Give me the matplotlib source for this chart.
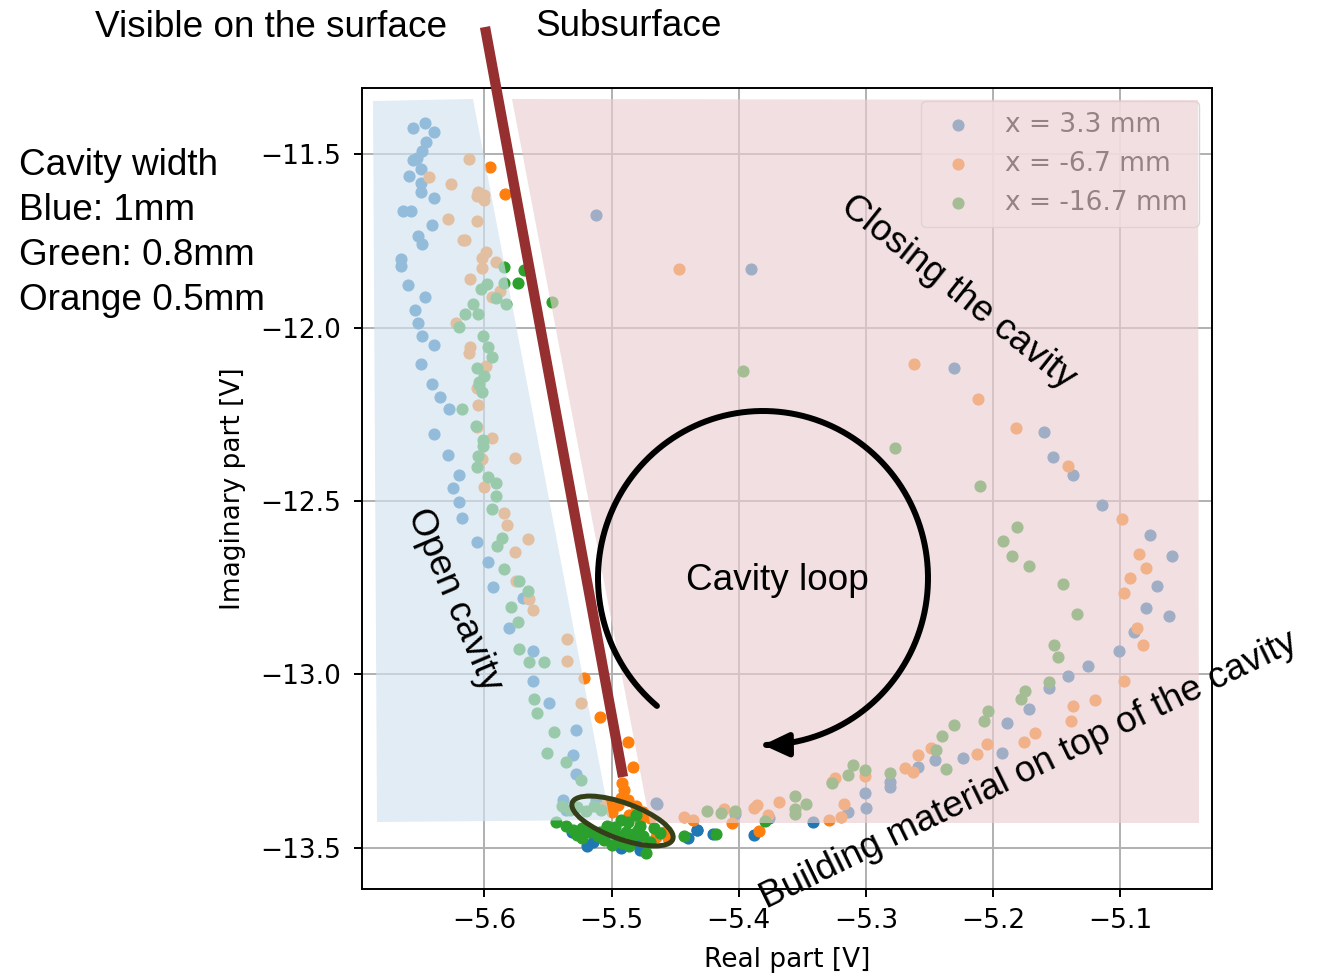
import matplotlib
matplotlib.use("Agg")
import numpy as np
import matplotlib.pyplot as plt
from matplotlib.patches import Polygon, Ellipse, FancyArrowPatch
from matplotlib.path import Path

# ---- measured impedance-plane trajectories (real / imaginary part in V) ----
re_33 = [-5.656, -5.647, -5.640, -5.646, -5.649, -5.653, -5.656, -5.650, -5.659, -5.650,
         -5.650, -5.640, -5.664, -5.658, -5.641, -5.652, -5.649, -5.666, -5.666, -5.660,
         -5.647, -5.655, -5.652, -5.649, -5.640, -5.650, -5.641, -5.635, -5.628, -5.640,
         -5.629, -5.620, -5.625, -5.620, -5.618, -5.606, -5.597, -5.593, -5.570, -5.581,
         -5.562, -5.562, -5.549, -5.528, -5.530, -5.528, -5.538,
         -5.512, -5.390, -5.231, -5.160, -5.153, -5.137, -5.114, -5.077, -5.059, -5.071,
         -5.080, -5.062, -5.089, -5.101, -5.125, -5.141, -5.156, -5.172, -5.189, -5.193,
         -5.224, -5.246, -5.259, -5.281, -5.281, -5.301, -5.300, -5.314, -5.342, -5.376,
         -5.403, -5.433, -5.464, -5.388,
         -5.519, -5.515, -5.478, -5.482, -5.531, -5.506, -5.493, -5.465, -5.512, -5.536,
         -5.420, -5.433, -5.440]
im_33 = [-11.423, -11.409, -11.435, -11.464, -11.490, -11.512, -11.518, -11.542, -11.563, -11.582,
         -11.608, -11.625, -11.664, -11.664, -11.704, -11.736, -11.759, -11.803, -11.821, -11.877,
         -11.911, -11.949, -11.987, -12.023, -12.050, -12.106, -12.162, -12.199, -12.235, -12.307,
         -12.367, -12.424, -12.462, -12.504, -12.548, -12.619, -12.675, -12.749, -12.781, -12.865,
         -12.932, -13.018, -13.083, -13.160, -13.233, -13.288, -13.362,
         -11.676, -11.831, -12.116, -12.301, -12.374, -12.425, -12.513, -12.597, -12.659, -12.744,
         -12.810, -12.832, -12.877, -12.933, -12.977, -13.005, -13.040, -13.100, -13.140, -13.228,
         -13.241, -13.247, -13.266, -13.310, -13.326, -13.341, -13.385, -13.396, -13.426, -13.413,
         -13.404, -13.448, -13.373, -13.464,
         -13.495, -13.483, -13.506, -13.483, -13.455, -13.472, -13.501, -13.371, -13.362, -13.391,
         -13.461, -13.449, -13.472]

re_m67 = [-5.612, -5.596, -5.644, -5.626, -5.605, -5.600, -5.606, -5.600, -5.584, -5.629,
          -5.606, -5.617, -5.615, -5.599, -5.602, -5.591, -5.602, -5.611, -5.588, -5.594,
          -5.622, -5.611, -5.612, -5.599, -5.606, -5.605, -5.606, -5.594, -5.576, -5.602,
          -5.600, -5.585, -5.582, -5.566, -5.576, -5.575, -5.565, -5.562, -5.535, -5.535,
          -5.522, -5.524, -5.509, -5.487, -5.483, -5.492,
          -5.447, -5.262, -5.212, -5.182, -5.141, -5.099, -5.085, -5.080, -5.092, -5.097,
          -5.087, -5.082, -5.097, -5.120, -5.137, -5.139, -5.167, -5.176, -5.205, -5.213,
          -5.249, -5.259, -5.269, -5.263, -5.301, -5.324, -5.327, -5.317, -5.320, -5.329,
          -5.368, -5.386, -5.388, -5.377, -5.384, -5.412, -5.405, -5.436, -5.443,
          -5.493, -5.495, -5.487, -5.481, -5.475, -5.500, -5.486, -5.470, -5.478, -5.465,
          -5.459, -5.456, -5.509, -5.504, -5.490]
im_m67 = [-11.514, -11.536, -11.565, -11.587, -11.608, -11.617, -11.620, -11.632, -11.614, -11.687,
          -11.692, -11.748, -11.748, -11.783, -11.798, -11.810, -11.827, -11.860, -11.894, -11.911,
          -11.986, -12.055, -12.072, -12.111, -12.175, -12.223, -12.286, -12.319, -12.375, -12.380,
          -12.459, -12.536, -12.569, -12.610, -12.646, -12.730, -12.782, -12.815, -12.899, -12.961,
          -13.010, -13.083, -13.123, -13.194, -13.266, -13.312,
          -11.831, -12.105, -12.207, -12.290, -12.398, -12.553, -12.653, -12.692, -12.721, -12.766,
          -12.866, -12.916, -13.018, -13.073, -13.090, -13.134, -13.169, -13.196, -13.202, -13.231,
          -13.212, -13.233, -13.269, -13.283, -13.294, -13.299, -13.311, -13.373, -13.410, -13.420,
          -13.368, -13.376, -13.384, -13.407, -13.452, -13.387, -13.428, -13.421, -13.410,
          -13.356, -13.377, -13.362, -13.380, -13.397, -13.397, -13.405, -13.414, -13.420, -13.469,
          -13.455, -13.472, -13.385, -13.371, -13.333]

re_m167 = [-5.585, -5.569, -5.574, -5.585, -5.598, -5.603, -5.591, -5.583, -5.547, -5.609,
           -5.615, -5.605, -5.620, -5.601, -5.597, -5.594, -5.606, -5.600, -5.604, -5.604,
           -5.602, -5.618, -5.607, -5.601, -5.601, -5.605, -5.606, -5.597, -5.591, -5.591,
           -5.594, -5.586, -5.590, -5.585, -5.573, -5.566, -5.579, -5.574, -5.573, -5.565,
           -5.553, -5.561, -5.559, -5.545, -5.551, -5.536, -5.524,
           -5.397, -5.277, -5.210, -5.181, -5.192, -5.185, -5.172, -5.145, -5.134, -5.152,
           -5.149, -5.156, -5.175, -5.178, -5.204, -5.207, -5.231, -5.240, -5.245, -5.237,
           -5.310, -5.301, -5.314, -5.281, -5.327, -5.356, -5.347, -5.356, -5.356, -5.403,
           -5.414, -5.425, -5.418, -5.443, -5.379,
           -5.539, -5.533, -5.527, -5.520, -5.514, -5.508, -5.544, -5.536, -5.530, -5.523,
           -5.517, -5.511, -5.504, -5.500, -5.495, -5.489, -5.484, -5.479, -5.475, -5.470,
           -5.473, -5.506, -5.500, -5.492, -5.486, -5.478, -5.487, -5.467, -5.462, -5.523,
           -5.493, -5.481, -5.497, -5.483, -5.509, -5.527]
im_m167 = [-11.826, -11.834, -11.870, -11.870, -11.875, -11.889, -11.915, -11.933, -11.927, -11.933,
           -11.961, -11.961, -11.999, -12.023, -12.056, -12.084, -12.117, -12.139, -12.156, -12.165,
           -12.185, -12.235, -12.283, -12.324, -12.341, -12.369, -12.402, -12.430, -12.447, -12.485,
           -12.524, -12.607, -12.629, -12.697, -12.730, -12.759, -12.807, -12.849, -12.926, -12.965,
           -12.965, -13.070, -13.110, -13.167, -13.227, -13.252, -13.306,
           -12.124, -12.347, -12.458, -12.575, -12.615, -12.659, -12.688, -12.738, -12.827, -12.914,
           -12.949, -13.023, -13.048, -13.071, -13.106, -13.134, -13.145, -13.179, -13.217, -13.273,
           -13.260, -13.277, -13.291, -13.285, -13.312, -13.351, -13.375, -13.387, -13.404, -13.393,
           -13.399, -13.395, -13.459, -13.467, -13.424,
           -13.380, -13.391, -13.382, -13.394, -13.380, -13.391, -13.426, -13.437, -13.449, -13.443,
           -13.455, -13.466, -13.437, -13.449, -13.466, -13.455, -13.472, -13.449, -13.466, -13.483,
           -13.515, -13.478, -13.492, -13.486, -13.495, -13.437, -13.426, -13.443, -13.457, -13.472,
           -13.420, -13.405, -13.440, -13.460, -13.455, -13.462]

series_labels = ["x = 3.3 mm", "x = -6.7 mm", "x = -16.7 mm"]
x_ticks = [-5.6, -5.5, -5.4, -5.3, -5.2, -5.1]
y_ticks = [-13.5, -13.0, -12.5, -12.0, -11.5]

W, H = 1322, 974
fig = plt.figure(figsize=(W / 100, H / 100), dpi=100)

# ---- scatter plot ----
ax = fig.add_axes([362 / W, 1 - 889 / H, (1211.7 - 362) / W, (889 - 88) / H])
for re_vals, im_vals, lab in zip([re_33, re_m67, re_m167], [im_33, im_m67, im_m167], series_labels):
    ax.scatter(re_vals, im_vals, s=60, label=lab)
ax.set_xlim(-5.6963, -5.0281)
ax.set_ylim(-13.619, -11.309)
ax.set_xticks(x_ticks)
ax.set_yticks(y_ticks)
ax.set_axisbelow(True)
ax.grid(True, color="#b0b0b0", linewidth=1.4)
ax.tick_params(labelsize=19, length=6, width=1.4)
ax.tick_params(axis="x", pad=8)
ax.tick_params(axis="y", pad=9)
for sp in ax.spines.values():
    sp.set_linewidth(1.4)
ax.set_xlabel("Real part [V]", fontsize=19, labelpad=9)
ax.set_ylabel("Imaginary part [V]", fontsize=19, labelpad=10)
ax.legend(loc="upper right", fontsize=19)

# ---- annotation layer in figure pixels ----
ov = fig.add_axes([0, 0, 1, 1])
ov.set_xlim(0, W)
ov.set_ylim(H, 0)
ov.axis("off")
ov.patch.set_alpha(0)

ov.add_patch(Polygon([(373, 101), (473, 99), (610, 820), (377, 822)], closed=True,
                     facecolor="#D3E2F0", edgecolor="none", alpha=0.65))
ov.add_patch(Polygon([(512, 99), (1198, 100), (1199, 823), (650, 823)], closed=True,
                     facecolor="#EACED0", edgecolor="none", alpha=0.64))

ov.plot([485, 623], [27, 777], color="#952F30", linewidth=7.4, solid_capstyle="butt")

ov.add_patch(Ellipse((622.5, 821), width=107, height=36, angle=20, fill=False,
                     edgecolor="#343F1A", linewidth=3.6))

t = np.deg2rad(np.linspace(130, 450, 300))
arc = np.column_stack([763 + 165 * np.cos(t), 578 + 167 * np.sin(t)])
ov.add_patch(FancyArrowPatch(path=Path(arc), arrowstyle="-|>,head_length=15,head_width=7",
                             mutation_scale=1, color="black", linewidth=4.3))

fs = 26.6
font = "Liberation Sans"
ov.text(95, 37, "Visible on the surface", fontsize=fs, family=font, ha="left", va="baseline")
ov.text(535, 36, "Subsurface", fontsize=fs, family=font, ha="left", va="baseline")
for i, line in enumerate(["Cavity width", "Blue: 1mm", "Green: 0.8mm", "Orange 0.5mm"]):
    ov.text(19, 175 + 45 * i, line, fontsize=fs, family=font, ha="left", va="baseline")
ov.text(777, 580, "Cavity loop", fontsize=fs, family=font, ha="center", va="center")
ov.text(958, 292, "Closing the cavity", fontsize=fs, family=font, ha="center", va="center",
        rotation=-38.5, rotation_mode="anchor")
ov.text(454, 600, "Open cavity", fontsize=fs, family=font, ha="center", va="center",
        rotation=-67, rotation_mode="anchor")
ov.text(1029, 770, "Building material on top of the cavity", fontsize=fs, family=font,
        ha="center", va="center", rotation=26, rotation_mode="anchor")

fig.savefig("out.png", dpi=100)
